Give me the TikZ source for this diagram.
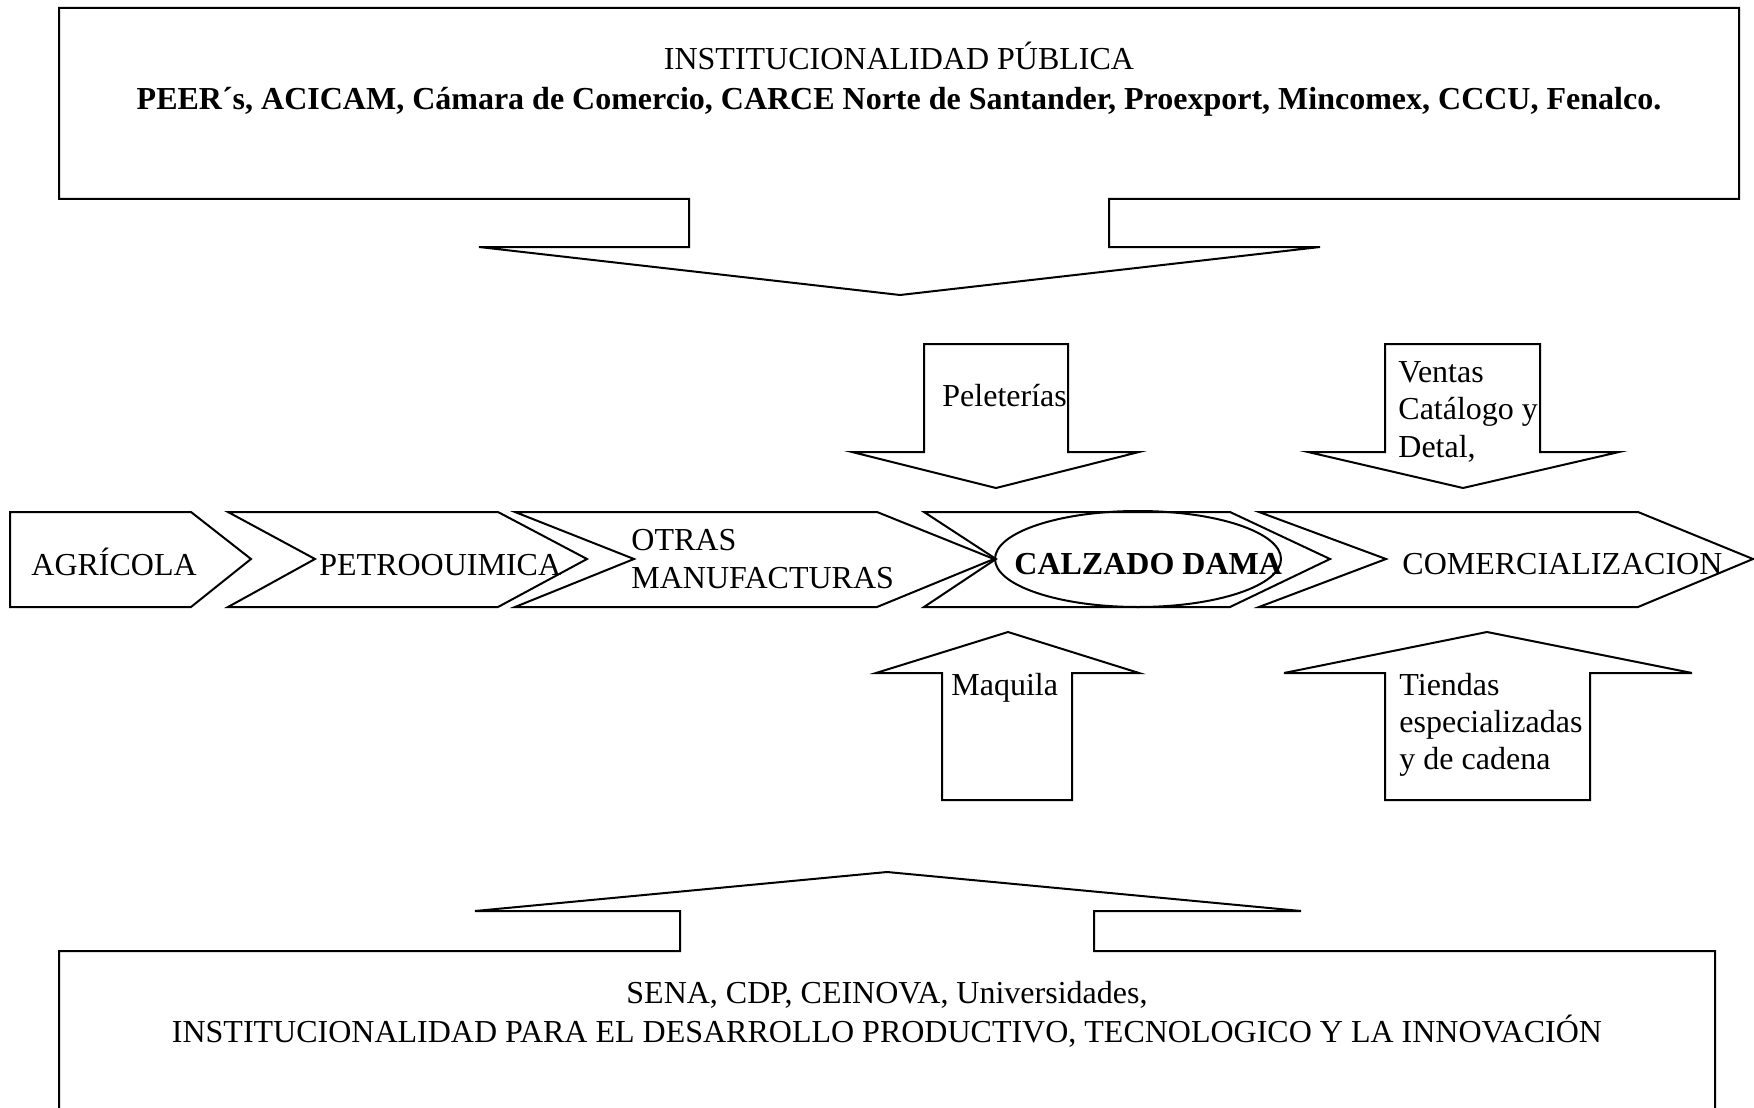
\documentclass[tikz,border=0pt]{standalone}
\usepackage{fontspec}
\setmainfont{Liberation Serif}
\begin{document}
\begin{tikzpicture}[x=0.5pt,y=-0.5pt,
  shp/.style={draw=black, line width=1pt, line join=miter},
  lbl/.style={anchor=base west, inner sep=0pt, font=\fontsize{16}{19}\selectfont},
  ctr/.style={anchor=base, inner sep=0pt, font=\fontsize{16}{19}\selectfont}]
\useasboundingbox (0,0) rectangle (1754,1107);
\clip (0,0) rectangle (1754,1107);
% top institutional box with down arrow
\draw[shp] (59,8) -- (1739,8) -- (1739,199) -- (1109,199) -- (1109,247) -- (1320,247) -- (900,295)
  -- (479,247) -- (689,247) -- (689,199) -- (59,199) -- cycle;
\node[ctr] (t1) at (899,70) {INSTITUCIONALIDAD PÚBLICA};
\node[ctr] (t2) at (899,110) {\bfseries PEER´s, ACICAM, Cámara de Comercio, CARCE Norte de Santander, Proexport, Mincomex, CCCU, Fenalco.};
% bottom box with up arrow
\draw[shp] (59,1130) -- (59,951) -- (680,951) -- (680,911) -- (475,911) -- (887,872) -- (1301,911)
  -- (1094,911) -- (1094,951) -- (1715,951) -- (1715,1130);
\node[ctr] (b1) at (887,1003) {SENA, CDP, CEINOVA, Universidades,};
\node[ctr] (b2) at (887,1042) {INSTITUCIONALIDAD PARA EL DESARROLLO PRODUCTIVO, TECNOLOGICO Y LA INNOVACIÓN};
% down arrows
\draw[shp] (924,344) -- (1068,344) -- (1068,452) -- (1139,452) -- (996,488) -- (852,452) -- (924,452) -- cycle;
\node[lbl] (pel) at (942,406) {Peleterías};
\draw[shp] (1385,344) -- (1540,344) -- (1540,452) -- (1619,452) -- (1463,488) -- (1308,452) -- (1385,452) -- cycle;
\node[lbl] (v1) at (1398,382) {Ventas};
\node[lbl] (v2) at (1398,419) {Catálogo y};
\node[lbl] (v3) at (1398,457) {Detal,};
% up arrows
\draw[shp] (942,800) -- (942,673) -- (876,673) -- (1008,632) -- (1139,673) -- (1072,673) -- (1072,800) -- cycle;
\node[lbl] (maq) at (951,695) {Maquila};
\draw[shp] (1385,800) -- (1385,673) -- (1284,673) -- (1487,632) -- (1692,673) -- (1590,673) -- (1590,800) -- cycle;
\node[lbl] (ti1) at (1399,695) {Tiendas};
\node[lbl] (ti2) at (1399,732) {especializadas};
\node[lbl] (ti3) at (1399,769) {y de cadena};
% chevrons
\draw[shp] (10,512) -- (191,512) -- (251,559) -- (191,607) -- (10,607) -- cycle;
\node[lbl] (agr) at (31,575) {AGRÍCOLA};
\draw[shp] (228,512) -- (498,512) -- (587,559) -- (498,607) -- (228,607) -- (315,559) -- cycle;
\node[lbl] (pet) at (319,575) {PETROOUIMICA};
\draw[shp] (515,512) -- (877,512) -- (994,559) -- (877,607) -- (515,607) -- (634,559) -- cycle;
\node[lbl] (ot1) at (631,550) {OTRAS};
\node[lbl] (ot2) at (631,588) {MANUFACTURAS};
\draw[shp] (924,512) -- (1230,512) -- (1330,559) -- (1230,607) -- (924,607) -- (996,559) -- cycle;
\draw[shp] (1138,559) ellipse [x radius=143, y radius=48];
\node[lbl] (cal) at (1014,574) {\bfseries CALZADO DAMA};
\draw[shp] (1259,512) -- (1638,512) -- (1753,559) -- (1638,607) -- (1259,607) -- (1386,559) -- cycle;
\node[lbl] (com) at (1402,574) {COMERCIALIZACION};
\end{tikzpicture}
\end{document}
